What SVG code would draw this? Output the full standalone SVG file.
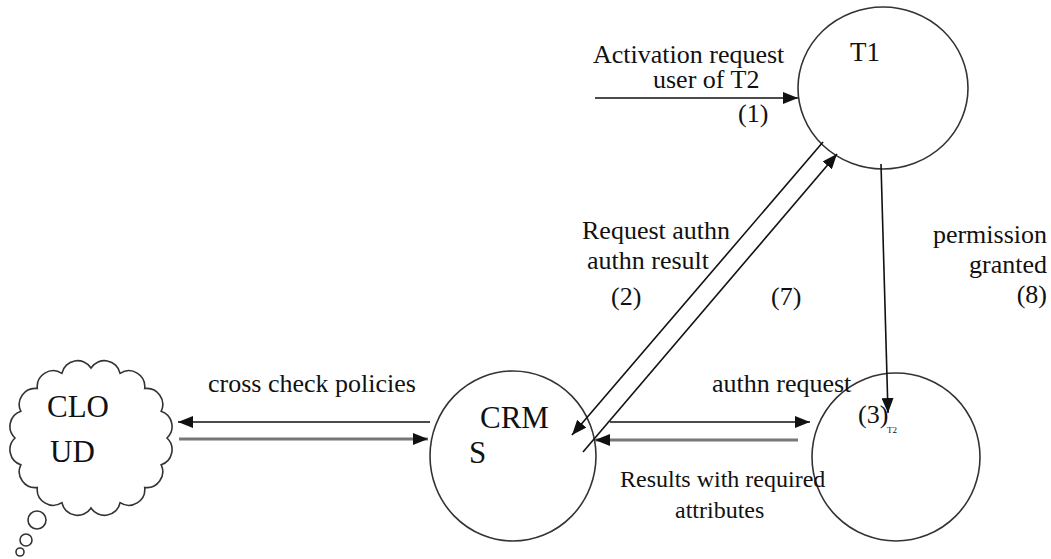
<svg xmlns="http://www.w3.org/2000/svg" width="1051" height="559" viewBox="0 0 1051 559">
<style>
.node{fill:#fff;stroke:#333;stroke-width:1.6}
text{font-family:'Liberation Serif','Times New Roman',serif;fill:#111}
.c{stroke:#111;stroke-width:1.6;fill:none}
.g{stroke:#777;stroke-width:3;fill:none}
</style>
<defs>
<marker id="ah" markerUnits="userSpaceOnUse" markerWidth="16" markerHeight="12" refX="15" refY="6" orient="auto">
<path d="M0,0 L15,6 L0,12 Z" fill="#111"/>
</marker>
</defs>
<rect width="1051" height="559" fill="#fff"/>
<g id="cloud">
<path class="node" d="M167,438 A16,16 0 0 1 161.2,464.8 A16,16 0 0 1 144.7,487.5 A16,16 0 0 1 120.1,502.7 A16,16 0 0 1 91,508 A16,16 0 0 1 61.9,502.7 A16,16 0 0 1 37.3,487.5 A16,16 0 0 1 20.8,464.8 A16,16 0 0 1 15,438 A16,16 0 0 1 20.8,411.2 A16,16 0 0 1 37.3,388.5 A16,16 0 0 1 61.9,373.3 A16,16 0 0 1 91,368 A16,16 0 0 1 120.1,373.3 A16,16 0 0 1 144.7,388.5 A16,16 0 0 1 161.2,411.2 A16,16 0 0 1 167,438 Z"/>
<circle class="node" cx="37" cy="520" r="9"/>
<circle class="node" cx="26" cy="540" r="6"/>
<circle class="node" cx="20" cy="552" r="4"/>
<text x="47" y="417" font-size="31">CLO</text>
<text x="50" y="462" font-size="31">UD</text>
</g>
<g id="crms">
<ellipse class="node" cx="513" cy="456" rx="83" ry="85"/>
<text x="480" y="428" font-size="31">CRM</text>
<text x="469" y="463" font-size="31">S</text>
</g>
<g id="t1">
<ellipse class="node" cx="883" cy="88" rx="85" ry="81"/>
<text x="850" y="61" font-size="27">T1</text>
</g>
<g id="t2">
<ellipse class="node" cx="896" cy="457" rx="84" ry="84"/>
</g>
<g id="connectors">
<line class="c" x1="595" y1="98" x2="798" y2="98" marker-end="url(#ah)"/>
<line class="c" x1="823" y1="142" x2="572" y2="435" marker-end="url(#ah)"/>
<line class="c" x1="583" y1="452" x2="837" y2="154" marker-end="url(#ah)"/>
<line class="c" x1="881" y1="164" x2="888" y2="413" marker-end="url(#ah)"/>
<line class="c" x1="430" y1="422" x2="178" y2="422" marker-end="url(#ah)"/>
<line class="g" x1="179" y1="439" x2="428" y2="439" marker-end="url(#ah)"/>
<line class="c" x1="610" y1="422" x2="810" y2="422" marker-end="url(#ah)"/>
<line class="g" x1="798" y1="440" x2="595" y2="440" marker-end="url(#ah)"/>
</g>
<g id="labels">
<text x="593" y="63" font-size="26">Activation request</text>
<text x="653" y="88" font-size="26">user of T2</text>
<text x="738" y="122" font-size="26">(1)</text>
<text x="582" y="239" font-size="26">Request authn</text>
<text x="587" y="269" font-size="26">authn result</text>
<text x="611" y="305" font-size="26">(2)</text>
<text x="771" y="305" font-size="26">(7)</text>
<text x="1047" y="243" font-size="26" text-anchor="end">permission</text>
<text x="1047" y="273" font-size="26" text-anchor="end">granted</text>
<text x="1047" y="303" font-size="26" text-anchor="end">(8)</text>
<text x="208" y="392" font-size="26">cross check policies</text>
<text x="712" y="392" font-size="26">authn request</text>
<text x="620" y="487" font-size="24">Results with required</text>
<text x="675" y="518" font-size="24">attributes</text>
<text x="858" y="423" font-size="26">(3)</text>
<text x="887" y="433" font-size="9">T2</text>
</g>
</svg>
